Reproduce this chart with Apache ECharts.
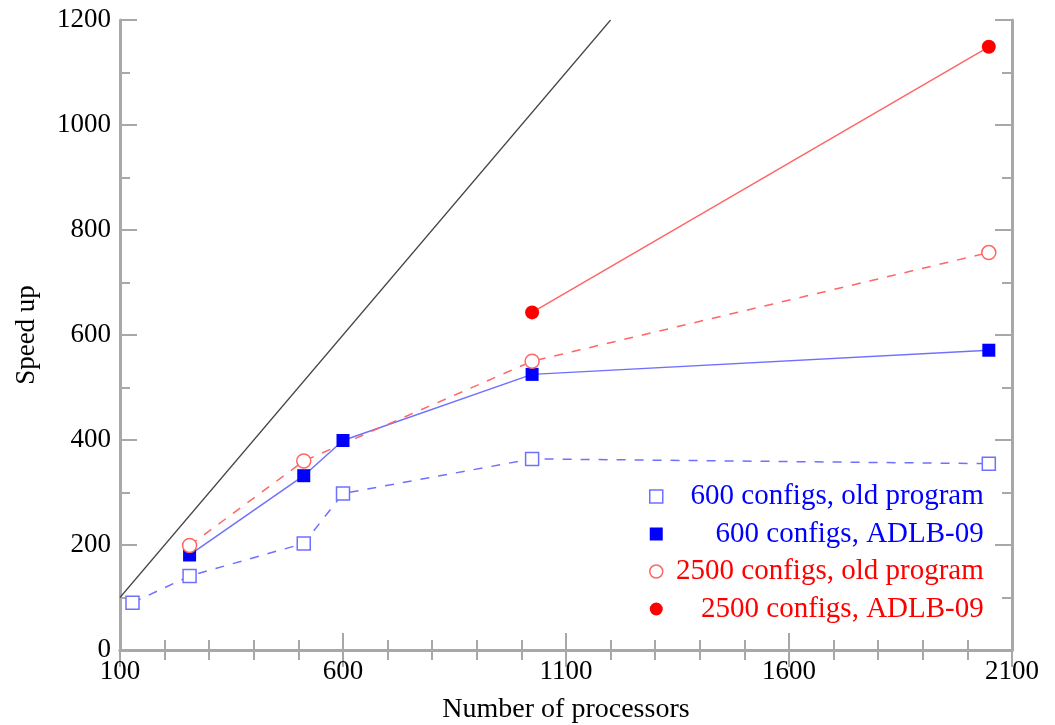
<!DOCTYPE html>
<html>
<head>
<meta charset="utf-8">
<script src="https://cdn.jsdelivr.net/npm/echarts@6/dist/echarts.min.js"></script>
<style>
  html, body { margin: 0; padding: 0; background: #fff; }
  #chart { width: 1055px; height: 725px; }
</style>
</head>
<body>
<div id="chart"></div>
<script>
// processors / speed-up values
const procsOld600 = [128, 256, 512, 600, 1024, 2048];
const speedOld600 = [90, 141, 203, 298, 364, 355];
const procsAdlb600 = [256, 512, 600, 1024, 2048];
const speedAdlb600 = [181, 332, 399, 525, 571];
const procsOld2500 = [256, 512, 1024, 2048];
const speedOld2500 = [199, 360, 550, 757];
const procsAdlb2500 = [1024, 2048];
const speedAdlb2500 = [643, 1149];
// ideal speed-up line
const procsIdeal = [100, 1200];
const speedIdeal = [100, 1200];

const seriesNames = [
  '600 configs, old program',
  '600 configs, ADLB-09',
  '2500 configs, old program',
  '2500 configs, ADLB-09'
];

const FONT = 'Liberation Serif';
const BLUE = '#0000ff';
const RED = '#ff0000';
const BLUE_LINE = '#7070ff';
const RED_LINE = '#ff6666';
const AXIS_GREY = '#a8a8a8';

const pairs = (xs, ys) => xs.map((x, i) => [x, ys[i]]);

const frameAxis = {
  axisLine: { show: true, lineStyle: { color: AXIS_GREY, width: 3 } },
  axisTick: { show: true, inside: true, length: 17, lineStyle: { color: AXIS_GREY, width: 2 } },
  minorTick: { show: true, length: 10, lineStyle: { color: AXIS_GREY, width: 2 } },
  splitLine: { show: false }
};

const tickLabel = { fontFamily: FONT, fontSize: 27, color: '#000', formatter: v => String(v) };

const chart = echarts.init(document.getElementById('chart'));

const option = {
  animation: false,
  backgroundColor: '#fff',
  grid: { left: 120, right: 43, top: 20, bottom: 75, outerBoundsMode: 'none' },
  xAxis: [
    {
      type: 'value', min: 100, max: 2100, interval: 500,
      name: 'Number of processors', nameLocation: 'middle', nameGap: 46,
      nameTextStyle: { fontFamily: FONT, fontSize: 28, color: '#000' },
      axisLabel: { ...tickLabel, margin: 8 },
      ...frameAxis,
      minorTick: { ...frameAxis.minorTick, splitNumber: 5 }
    },
    {
      type: 'value', min: 100, max: 2100, interval: 500, position: 'top',
      axisLabel: { show: false },
      ...frameAxis,
      minorTick: { ...frameAxis.minorTick, splitNumber: 5 }
    }
  ],
  yAxis: [
    {
      type: 'value', min: 0, max: 1200, interval: 200,
      name: 'Speed up', nameLocation: 'middle', nameGap: 80,
      nameTextStyle: { fontFamily: FONT, fontSize: 27, color: '#000' },
      axisLabel: { ...tickLabel, margin: 9 },
      ...frameAxis,
      minorTick: { ...frameAxis.minorTick, splitNumber: 2 }
    },
    {
      type: 'value', min: 0, max: 1200, interval: 200, position: 'right',
      axisLabel: { show: false },
      ...frameAxis,
      minorTick: { ...frameAxis.minorTick, splitNumber: 2 }
    }
  ],
  legend: {
    orient: 'vertical',
    left: 649,
    top: 482,
    padding: 0,
    itemWidth: 13,
    itemHeight: 13,
    itemGap: 8.5,
    formatter: name => '{r|' + name + '}',
    textStyle: {
      fontFamily: FONT,
      fontSize: 29,
      rich: { r: { width: 316, align: 'right', fontFamily: FONT, fontSize: 29, lineHeight: 29 } }
    },
    data: [
      { name: seriesNames[0], icon: 'rect', itemStyle: { color: '#fff', borderColor: BLUE_LINE, borderWidth: 1.5 }, textStyle: { color: BLUE } },
      { name: seriesNames[1], icon: 'rect', itemStyle: { color: BLUE, borderWidth: 0 }, textStyle: { color: BLUE } },
      { name: seriesNames[2], icon: 'circle', itemStyle: { color: '#fff', borderColor: RED_LINE, borderWidth: 1.5 }, textStyle: { color: RED } },
      { name: seriesNames[3], icon: 'circle', itemStyle: { color: RED, borderWidth: 0 }, textStyle: { color: RED } }
    ]
  },
  series: [
    {
      name: 'ideal',
      type: 'line',
      data: pairs(procsIdeal, speedIdeal),
      symbol: 'none',
      lineStyle: { color: '#444', width: 1.2 },
      silent: true
    },
    {
      name: seriesNames[0],
      type: 'line',
      data: pairs(procsOld600, speedOld600),
      symbol: 'rect', symbolSize: 13,
      lineStyle: { color: BLUE_LINE, width: 1.5, type: [9, 9] },
      itemStyle: { color: '#fff', borderColor: BLUE_LINE, borderWidth: 1.5 }
    },
    {
      name: seriesNames[1],
      type: 'line',
      data: pairs(procsAdlb600, speedAdlb600),
      symbol: 'rect', symbolSize: 13,
      lineStyle: { color: BLUE_LINE, width: 1.5 },
      itemStyle: { color: BLUE, borderWidth: 0 }
    },
    {
      name: seriesNames[2],
      type: 'line',
      data: pairs(procsOld2500, speedOld2500),
      symbol: 'circle', symbolSize: 14,
      lineStyle: { color: RED_LINE, width: 1.5, type: [9, 9] },
      itemStyle: { color: '#fff', borderColor: RED_LINE, borderWidth: 1.5 }
    },
    {
      name: seriesNames[3],
      type: 'line',
      data: pairs(procsAdlb2500, speedAdlb2500),
      symbol: 'circle', symbolSize: 14,
      lineStyle: { color: RED_LINE, width: 1.5 },
      itemStyle: { color: RED, borderWidth: 0 }
    }
  ]
};

chart.setOption(option);
</script>
</body>
</html>
